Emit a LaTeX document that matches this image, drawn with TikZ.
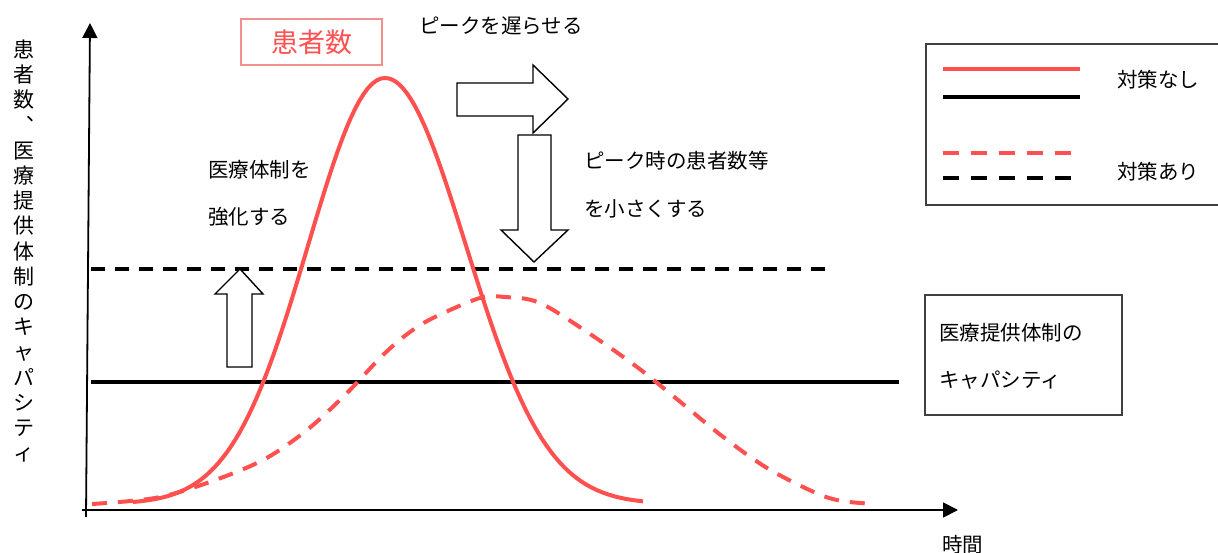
\documentclass[tikz,border=0pt]{standalone}
\usepackage{fontspec}
\setmainfont{Noto Sans CJK JP}
\usetikzlibrary{arrows.meta}
\definecolor{ptRed}{HTML}{FF5050}
\definecolor{ptRedBox}{HTML}{F29090}
\definecolor{boxGray}{HTML}{404040}
\tikzset{
  every node/.style={font=\fontsize{20.5}{24}\selectfont, inner sep=0pt},
  axisLine/.style={-{Triangle[length=15pt,width=15pt]}, line width=1.8pt},
  capLine/.style={line width=4pt},
  capDash/.style={line width=4pt, dash pattern=on 14pt off 10pt},
  patientCurve/.style={ptRed, line width=4pt},
  patientDash/.style={ptRed, line width=4pt, dash pattern=on 15pt off 11pt},
  blockArrow/.style={draw=black, fill=white, line width=1.4pt, line join=miter},
  frameBox/.style={draw=boxGray, line width=1.5pt},
  note/.style={anchor=west},
}

\begin{document}
\begin{tikzpicture}[x=1pt,y=-1pt,
    declare function={bell(\t,\s)=exp(-(\t/\s)*(\t/\s)/2);}]
  \useasboundingbox (0,0) rectangle (1218,553);

  % Axes.
  \coordinate (origin) at (86,510);
  \coordinate (yTop) at (90,23);
  \coordinate (xEnd) at (958,510);
  \draw[axisLine] (86,517) -- (yTop);
  \draw[axisLine] (82,510) -- (xEnd);
  \node[align=center, font=\fontsize{21}{25.2}\selectfont] (yLabel) at (24,251)
    {患\\者\\数\\︑\\医\\療\\提\\供\\体\\制\\の\\キ\\ャ\\パ\\シ\\テ\\ィ};
  \node[note] (xLabel) at (942,545) {時間};

  % Capacity lines.
  \draw[capLine] (91,382) -- (899,382);
  \draw[capDash] (91,269) -- (833,269);

  % Patient curves.
  \draw[patientCurve]
    plot[domain=133:385, samples=60] (\x,{504-426*bell(\x-385,77)})
    -- plot[domain=385:643, samples=60] (\x,{504-426*bell(\x-385,81)});
  \draw[patientDash] plot[smooth, tension=0.55] coordinates {
    (92,504) (155,498) (207,483) (263,460) (307,430) (347,393) (383,355)
    (410,332) (435,317) (480,298) (505,297) (540,303) (590,334) (637,367)
    (678,400) (722,436) (767,468) (816,493) (842,501) (875,504)};

  % Block arrows.
  \draw[blockArrow] (457,83) -- (533,83) -- (533,65) -- (568,99) -- (533,133)
    -- (533,116) -- (457,116) -- cycle;
  \draw[blockArrow] (518,135) -- (551,135) -- (551,230) -- (568,230) -- (534,262)
    -- (501,230) -- (518,230) -- cycle;
  \draw[blockArrow] (227,367) -- (252,367) -- (252,294) -- (263,294) -- (240,269)
    -- (215,294) -- (227,294) -- cycle;

  % Labels.
  \node[draw=ptRedBox, line width=1.5pt, minimum width=141pt, minimum height=46pt,
    text=ptRed, font=\fontsize{27}{30}\selectfont] (title) at (311.5,42) {患者数};
  \node[note] (delay) at (419,26) {ピークを遅らせる};
  \node[note] (reduceA) at (584,161) {ピーク時の患者数等};
  \node[note] (reduceB) at (584,209) {を小さくする};
  \node[note] (boostA) at (208,170) {医療体制を};
  \node[note] (boostB) at (208,217) {強化する};

  % Legend.
  \draw[frameBox] (926,44) rectangle (1225,205);
  \draw[patientCurve] (943,69) -- (1080,69);
  \draw[capLine] (943,97) -- (1080,97);
  \draw[patientDash, dash pattern=on 16pt off 12pt] (943,153) -- (1071,153);
  \draw[capDash, dash pattern=on 16pt off 12pt] (943,178) -- (1071,178);
  \node[note] (noMeasure) at (1117,80) {対策なし};
  \node[note] (withMeasure) at (1117,172) {対策あり};

  % Capacity box.
  \node[frameBox, minimum width=197pt, minimum height=120pt] (capBox) at (1023.5,355) {};
  \node[note] (capA) at (939,333) {医療提供体制の};
  \node[note] (capB) at (939,380) {キャパシティ};
\end{tikzpicture}
\end{document}
